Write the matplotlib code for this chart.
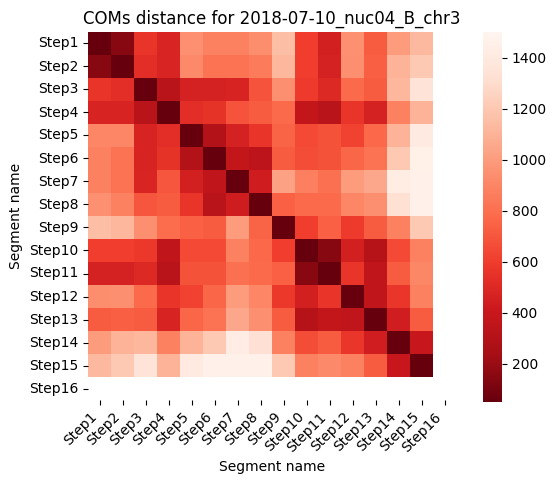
import numpy as np
import matplotlib
matplotlib.use('Agg')
import matplotlib.pyplot as plt
import seaborn as sns

labels = ['Step%d' % i for i in range(1, 17)]
nan = np.nan

# COM distances (Step16 has no data)
row1 = [50, 150, 560, 480, 950, 880, 880, 930, 1150, 600, 450, 950, 720, 1000, 1130, nan]
row2 = [150, 50, 530, 480, 920, 820, 820, 850, 1120, 600, 460, 940, 730, 1100, 1200, nan]
row3 = [560, 530, 50, 330, 460, 460, 470, 690, 940, 590, 500, 780, 720, 1120, 1350, nan]
row4 = [470, 470, 330, 50, 530, 550, 690, 720, 780, 370, 330, 560, 460, 880, 1100, nan]
row5 = [900, 900, 470, 530, 50, 300, 460, 560, 750, 650, 680, 620, 770, 1100, 1400, nan]
row6 = [880, 820, 470, 550, 300, 50, 370, 340, 720, 660, 680, 760, 820, 1200, 1450, nan]
row7 = [880, 820, 480, 700, 450, 360, 50, 430, 1020, 870, 800, 1000, 1050, 1420, 1460, nan]
row8 = [950, 880, 700, 720, 560, 330, 430, 50, 740, 780, 780, 900, 940, 1320, 1460, nan]
row9 = [1150, 1120, 940, 790, 740, 720, 1000, 750, 50, 600, 740, 590, 720, 880, 1200, nan]
row10 = [600, 600, 580, 360, 650, 650, 880, 770, 600, 50, 150, 450, 310, 650, 880, nan]
row11 = [460, 460, 500, 330, 680, 680, 800, 780, 740, 150, 50, 560, 360, 720, 910, nan]
row12 = [930, 940, 780, 560, 620, 760, 1000, 900, 580, 450, 560, 50, 360, 570, 880, nan]
row13 = [720, 730, 720, 470, 760, 820, 1050, 940, 720, 310, 370, 360, 50, 440, 720, nan]
row14 = [1000, 1100, 1120, 880, 1100, 1200, 1430, 1330, 880, 660, 720, 570, 440, 50, 400, nan]
row15 = [1130, 1200, 1350, 1100, 1400, 1460, 1460, 1460, 1200, 880, 920, 880, 720, 400, 50, nan]
row16 = [nan] * 16

dist = np.array([row1, row2, row3, row4, row5, row6, row7, row8, row9, row10,
                 row11, row12, row13, row14, row15, row16])

fig = plt.figure(figsize=(5.56, 4.86), dpi=100)
ax = fig.add_axes([88/556, 86/486, 368/556, 368/486])
cax = fig.add_axes([483/556, 84/486, 19/556, 370/486])

sns.heatmap(dist, cmap='Reds_r', vmin=50, vmax=1500, ax=ax, cbar_ax=cax,
            xticklabels=labels, yticklabels=labels)
ax.set_title('COMs distance for 2018-07-10_nuc04_B_chr3')
ax.set_xlabel('Segment name')
ax.set_ylabel('Segment name')
plt.setp(ax.get_xticklabels(), rotation=45, ha='right')
plt.setp(ax.get_yticklabels(), rotation=0)

fig.savefig('out.png', dpi=100)
